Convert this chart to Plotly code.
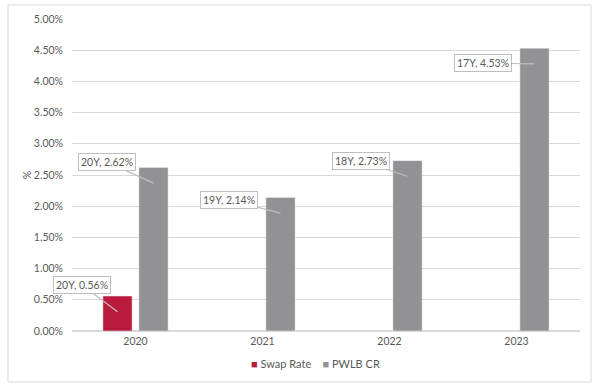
import plotly.graph_objects as go

years = ["2020", "2021", "2022", "2023"]
swap_rate = [0.56, None, None, None]
pwlb_cr = [2.62, 2.14, 2.73, 4.53]
swap_tenor = ["20Y", None, None, None]
pwlb_tenor = ["20Y", "19Y", "18Y", "17Y"]
y_ticks = [0, 0.5, 1.0, 1.5, 2.0, 2.5, 3.0, 3.5, 4.0, 4.5, 5.0]

RED = "#BA1A3C"
GREY = "#929295"
TXT = "#595959"
FONT = "Lato"

fig = go.Figure()
fig.add_trace(go.Bar(name="Swap Rate", x=years, y=swap_rate, marker_color=RED, showlegend=False))
fig.add_trace(go.Bar(name="PWLB CR", x=years, y=pwlb_cr, marker_color=GREY, showlegend=False))

slot = 0.283
swap_off = [(-36, -27)]
pwlb_off = [(-46, -21), (-51, -13), (-46, -15), (-51, -1)]

def callout(xpos, val, txt, off):
    fig.add_annotation(
        x=xpos, y=val - 0.25, xref="x", yref="y",
        text=txt, showarrow=True, arrowhead=0, arrowwidth=1.2,
        arrowcolor="#BFBFBF", ax=off[0], ay=off[1],
        bgcolor="white", bordercolor="#BFBFBF", borderwidth=1, borderpad=2,
        font=dict(family=FONT, size=10.5, color=TXT),
    )

for i, v in enumerate(swap_rate):
    if v is not None:
        callout(i - slot / 2, v, f"{swap_tenor[i]}, {v:.2f}%", swap_off[i])
for i, v in enumerate(pwlb_cr):
    callout(i + slot / 2, v, f"{pwlb_tenor[i]}, {v:.2f}%", pwlb_off[i])

legend_text = (f"<span style='color:{RED}'>■</span> Swap Rate    "
               f"<span style='color:{GREY}'>■</span> PWLB CR")
fig.add_annotation(x=0.348, y=-0.105, xref="paper", yref="paper", text=legend_text,
                   showarrow=False, xanchor="left", yanchor="middle",
                   font=dict(family=FONT, size=11, color=TXT))

fig.update_layout(
    width=602, height=390,
    margin=dict(l=72, r=22, t=19, b=59, autoexpand=False),
    paper_bgcolor="white", plot_bgcolor="white",
    barmode="group", bargap=0.433, bargroupgap=0.19,
    font=dict(family=FONT, size=10.5, color=TXT),
    showlegend=False,
    xaxis=dict(type="category", range=[-0.5, 3.5], autorange=False,
               showgrid=False, showline=True, linecolor="#D9D9D9",
               ticks="", tickfont=dict(size=10.5, color=TXT), automargin=False),
    yaxis=dict(range=[0, 5.0], autorange=False, tickvals=y_ticks,
               ticktext=[f"{t:.2f}%" for t in y_ticks],
               showgrid=True, gridcolor="#D9D9D9", gridwidth=1,
               zeroline=True, zerolinecolor="#D9D9D9",
               title=dict(text="%", standoff=0, font=dict(size=10.5, color=TXT)),
               tickfont=dict(size=10.5, color=TXT), ticks="", ticklabelstandoff=8,
               automargin=False),
    shapes=[dict(type="rect", xref="paper", yref="paper",
                 x0=-0.126, x1=1.0217, y0=-0.1635, y1=1.045,
                 line=dict(color="#D9D9D9", width=1), fillcolor="rgba(0,0,0,0)",
                 layer="above")],
)

fig.write_html("out.html", config={"displayModeBar": False},
               post_script="document.body.style.margin='0';")
